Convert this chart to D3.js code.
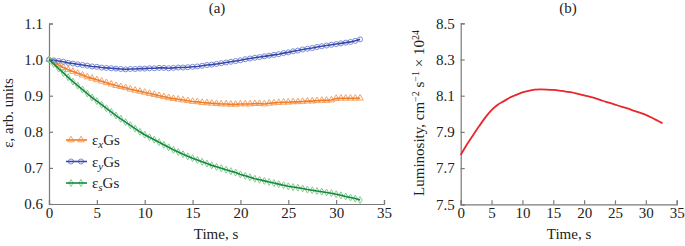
<!DOCTYPE html>
<html>
<head>
<meta charset="utf-8">
<script src="https://cdn.jsdelivr.net/npm/d3@7"></script>
<style>
  body { margin: 0; background: #fff; }
  svg { display: block; font-family: "Liberation Serif", "DejaVu Serif", serif; }
</style>
</head>
<body>
<svg id="chart" width="685" height="246"></svg>
<script>
// =========================
// DADES
// =========================

// temps (s) per a les tres corbes d'emitància
const timeEps = [
  0, 0.5, 1, 1.5, 2, 2.5, 3, 3.5, 4, 4.5, 5, 5.5, 6, 6.5, 7, 7.5, 8, 8.5, 9, 9.5,
  10, 10.5, 11, 11.5, 12, 12.5, 13, 13.5, 14, 14.5, 15, 15.5, 16, 16.5, 17, 17.5,
  18, 18.5, 19, 19.5, 20, 20.5, 21, 21.5, 22, 22.5, 23, 23.5, 24, 24.5, 25, 25.5,
  26, 26.5, 27, 27.5, 28, 28.5, 29, 29.5, 30, 30.5, 31, 31.5, 32, 32.5
];

const epsX = [
  1.000, 0.993, 0.985, 0.978, 0.972, 0.967, 0.962, 0.957, 0.952, 0.948, 0.944, 0.940,
  0.936, 0.932, 0.928, 0.925, 0.922, 0.918, 0.915, 0.912, 0.909, 0.906, 0.903, 0.900,
  0.897, 0.894, 0.892, 0.890, 0.888, 0.886, 0.884, 0.883, 0.881, 0.880, 0.879, 0.878,
  0.877, 0.877, 0.876, 0.876, 0.877, 0.877, 0.877, 0.878, 0.878, 0.877, 0.879, 0.880,
  0.881, 0.882, 0.882, 0.883, 0.883, 0.884, 0.885, 0.885, 0.886, 0.887, 0.887, 0.888,
  0.892, 0.893, 0.893, 0.893, 0.893, 0.893
];

const epsY = [
  1.000, 0.998, 0.996, 0.994, 0.991, 0.989, 0.987, 0.985, 0.983, 0.981, 0.980, 0.978,
  0.977, 0.976, 0.975, 0.974, 0.973, 0.974, 0.974, 0.975, 0.975, 0.976, 0.976, 0.977,
  0.977, 0.976, 0.977, 0.978, 0.978, 0.979, 0.980, 0.981, 0.983, 0.985, 0.986, 0.988,
  0.990, 0.992, 0.994, 0.996, 0.998, 1.001, 1.003, 1.005, 1.007, 1.009, 1.011, 1.013,
  1.015, 1.018, 1.020, 1.023, 1.025, 1.028, 1.030, 1.032, 1.035, 1.037, 1.039, 1.041,
  1.043, 1.045, 1.047, 1.049, 1.052, 1.056
];

const epsS = [
  1.000, 0.988, 0.975, 0.963, 0.951, 0.939, 0.928, 0.917, 0.906, 0.895, 0.885, 0.875,
  0.865, 0.855, 0.845, 0.836, 0.827, 0.818, 0.809, 0.800, 0.792, 0.785, 0.778, 0.771,
  0.764, 0.757, 0.750, 0.744, 0.738, 0.732, 0.727, 0.722, 0.717, 0.712, 0.707, 0.703,
  0.699, 0.695, 0.691, 0.687, 0.682, 0.678, 0.674, 0.670, 0.667, 0.664, 0.661, 0.658,
  0.655, 0.652, 0.649, 0.647, 0.645, 0.643, 0.640, 0.638, 0.636, 0.634, 0.632, 0.630,
  0.627, 0.624, 0.621, 0.618, 0.615, 0.611
];

// lluminositat (× 10^24 cm^-2 s^-1)
const timeLum = [
  0, 1, 2, 3, 4, 5, 6, 7, 8, 9, 10, 11, 12, 13, 14, 15, 16, 17, 18, 19, 20,
  21, 22, 23, 24, 25, 26, 27, 28, 29, 30, 31, 32, 32.7
];
const lum = [
  7.772, 7.830, 7.882, 7.932, 7.980, 8.020, 8.050, 8.070, 8.090, 8.105, 8.118,
  8.127, 8.133, 8.135, 8.134, 8.132, 8.128, 8.123, 8.118, 8.110, 8.102, 8.094,
  8.084, 8.072, 8.062, 8.051, 8.040, 8.030, 8.018, 8.006, 7.994, 7.978, 7.960, 7.948
];

const xTicks = [0, 5, 10, 15, 20, 25, 30, 35];
const yTicksA = [0.6, 0.7, 0.8, 0.9, 1.0, 1.1];
const yTicksB = [7.5, 7.7, 7.9, 8.1, 8.3, 8.5];

const seriesA = [
  { sub: "x", values: epsX, line: "#f07f2a", mark: "#f5a264", symbol: d3.symbolTriangle, size: 18 },
  { sub: "y", values: epsY, line: "#3548a8", mark: "#7c8ad6", symbol: d3.symbolCircle, size: 20 },
  { sub: "s", values: epsS, line: "#138a3c", mark: "#84cc93", symbol: d3.symbolDiamond, size: 14 }
];

// =========================
// CONFIGURACIÓ
// =========================

const svg = d3.select("#chart");
const axisColor = "#7a7a7a";
const textColor = "#222";
const fontSize = "15px";

// =========================
// EIXOS
// =========================

function drawAxes(g, x, y, yTicks) {
  const xAxis = g.append("g")
    .attr("transform", `translate(0,${y.range()[0]})`)
    .call(d3.axisBottom(x).tickValues(xTicks).tickSize(-4).tickPadding(3).tickFormat(d3.format("d")));

  const yAxis = g.append("g")
    .attr("transform", `translate(${x.range()[0]},0)`)
    .call(d3.axisLeft(y).tickValues(yTicks).tickSize(-4).tickPadding(6).tickFormat(d3.format(".1f")));

  [xAxis, yAxis].forEach(a => {
    a.select(".domain").attr("stroke", axisColor).attr("stroke-width", 1.2);
    a.selectAll(".tick line").attr("stroke", axisColor).attr("stroke-width", 1.2);
    a.selectAll(".tick text")
      .style("font-family", "Liberation Serif, serif")
      .style("font-size", fontSize)
      .attr("fill", textColor);
  });
}

// =========================
// PANELL (a)
// =========================

const xA = d3.scaleLinear().domain([0, 35]).range([49, 384]);
const yA = d3.scaleLinear().domain([0.6, 1.1]).range([204, 23.5]);

const gA = svg.append("g");
drawAxes(gA, xA, yA, yTicksA);

seriesA.forEach(s => {
  const pts = timeEps.map((t, i) => [t, s.values[i]]);
  const sym = d3.symbol().type(s.symbol).size(s.size);

  gA.append("g").selectAll("path")
    .data(pts)
    .enter()
    .append("path")
    .attr("transform", d => `translate(${xA(d[0])},${yA(d[1])})`)
    .attr("d", sym)
    .attr("fill", "none")
    .attr("stroke", s.mark)
    .attr("stroke-width", 1);

  gA.append("path")
    .datum(pts)
    .attr("fill", "none")
    .attr("stroke", s.line)
    .attr("stroke-width", 1.6)
    .attr("d", d3.line().x(d => xA(d[0])).y(d => yA(d[1])));
});

// llegenda
const legend = gA.append("g").attr("transform", "translate(66,140)");
seriesA.forEach((s, i) => {
  const row = legend.append("g").attr("transform", `translate(0,${i * 21.5})`);
  const sym = d3.symbol().type(s.symbol).size(s.size);
  [5, 15].forEach(dx => {
    row.append("path")
      .attr("transform", `translate(${dx},0)`)
      .attr("d", sym)
      .attr("fill", "none")
      .attr("stroke", s.mark)
      .attr("stroke-width", 1);
  });
  row.append("line")
    .attr("x1", 0).attr("x2", 21)
    .attr("stroke", s.line)
    .attr("stroke-width", 1.6);

  const t = row.append("text")
    .attr("x", 26)
    .attr("y", 5)
    .style("font-size", fontSize)
    .attr("fill", textColor);
  t.append("tspan").text("ε");
  t.append("tspan").attr("dy", 3).style("font-size", "11px").style("font-style", "italic").text(s.sub);
  t.append("tspan").attr("dy", -3).text("Gs");
});

gA.append("text")
  .attr("x", 217).attr("y", 13)
  .attr("text-anchor", "middle")
  .style("font-size", fontSize)
  .attr("fill", textColor)
  .text("(a)");

gA.append("text")
  .attr("x", 216).attr("y", 239)
  .attr("text-anchor", "middle")
  .style("font-size", fontSize)
  .attr("fill", textColor)
  .text("Time, s");

gA.append("text")
  .attr("transform", "translate(13,113) rotate(-90)")
  .attr("text-anchor", "middle")
  .style("font-size", fontSize)
  .attr("fill", textColor)
  .text("ε, arb. units");

// =========================
// PANELL (b)
// =========================

const xB = d3.scaleLinear().domain([0, 35]).range([460.7, 676.7]);
const yB = d3.scaleLinear().domain([7.5, 8.5]).range([204.3, 23.3]);

const gB = svg.append("g");
drawAxes(gB, xB, yB, yTicksB);

gB.append("path")
  .datum(timeLum.map((t, i) => [t, lum[i]]))
  .attr("fill", "none")
  .attr("stroke", "#e8262b")
  .attr("stroke-width", 1.8)
  .attr("d", d3.line().curve(d3.curveMonotoneX).x(d => xB(d[0])).y(d => yB(d[1])));

gB.append("text")
  .attr("x", 568).attr("y", 13)
  .attr("text-anchor", "middle")
  .style("font-size", fontSize)
  .attr("fill", textColor)
  .text("(b)");

gB.append("text")
  .attr("x", 569).attr("y", 239)
  .attr("text-anchor", "middle")
  .style("font-size", fontSize)
  .attr("fill", textColor)
  .text("Time, s");

const lumLabel = gB.append("text")
  .attr("transform", "translate(424,113) rotate(-90)")
  .attr("text-anchor", "middle")
  .style("font-size", fontSize)
  .attr("fill", textColor);
lumLabel.append("tspan").text("Luminosity, cm");
lumLabel.append("tspan").attr("dy", -5).style("font-size", "10px").text("−2");
lumLabel.append("tspan").attr("dy", 5).text(" s");
lumLabel.append("tspan").attr("dy", -5).style("font-size", "10px").text("−1");
lumLabel.append("tspan").attr("dy", 5).text(" × 10");
lumLabel.append("tspan").attr("dy", -5).style("font-size", "10px").text("24");
</script>
</body>
</html>
